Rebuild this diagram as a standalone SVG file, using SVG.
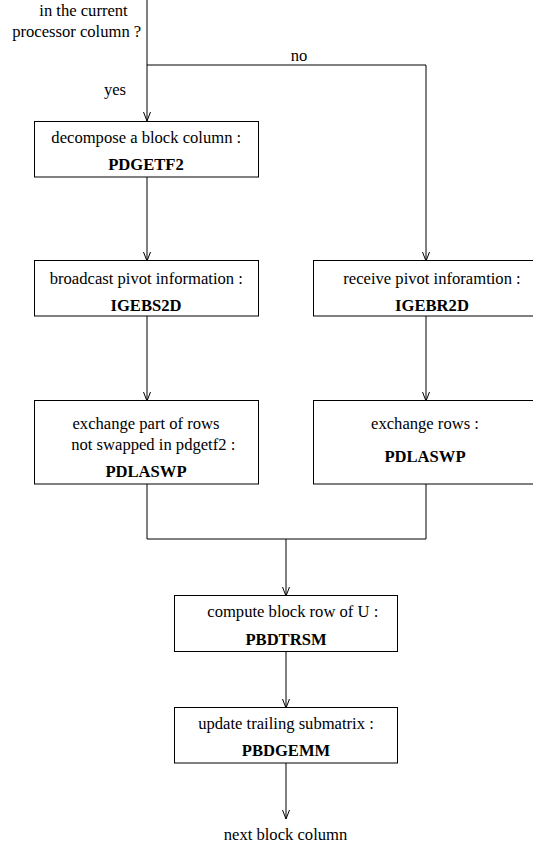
<svg xmlns="http://www.w3.org/2000/svg" width="533" height="846" viewBox="0 0 533 846">
<style>
text{font-family:"Liberation Serif","Times New Roman",serif;font-size:16.6px;fill:#000}
.b{font-weight:bold}
.m{text-anchor:middle}
rect{fill:#fff;stroke:#000;stroke-width:1}
.c{fill:none;stroke:#000;stroke-width:1}
</style>
<defs>
<marker id="arr" markerUnits="userSpaceOnUse" markerWidth="10" markerHeight="10" refX="9" refY="4" orient="auto" viewBox="0 0 10 8">
<path d="M0,0.5 L9,4 L0,7.5" fill="none" stroke="#000" stroke-width="1"/>
</marker>
</defs>
<g id="connectors">
<line class="c" x1="147" y1="0" x2="147" y2="121" marker-end="url(#arr)"/>
<polyline class="c" points="147,65 426,65 426,261" marker-end="url(#arr)"/>
<line class="c" x1="147" y1="177" x2="147" y2="261" marker-end="url(#arr)"/>
<line class="c" x1="147" y1="316" x2="147" y2="401" marker-end="url(#arr)"/>
<line class="c" x1="426" y1="316" x2="426" y2="401" marker-end="url(#arr)"/>
<polyline class="c" points="147,484 147,539 426,539 426,484"/>
<line class="c" x1="286" y1="539" x2="286" y2="596" marker-end="url(#arr)"/>
<line class="c" x1="286" y1="652" x2="286" y2="708" marker-end="url(#arr)"/>
<line class="c" x1="286" y1="763" x2="286" y2="819" marker-end="url(#arr)"/>
</g>
<g id="labels">
<text class="m" x="83.5" y="16">in the current</text>
<text class="m" x="76.7" y="37">processor column ?</text>
<text class="m" x="299" y="61">no</text>
<text class="m" x="115" y="95">yes</text>
<text class="m" x="285.5" y="840">next block column</text>
</g>
<g id="decompose">
<rect x="34.5" y="121.5" width="224" height="55.5"/>
<text class="m" x="146.3" y="143">decompose a block column :</text>
<text class="m b" x="146" y="170">PDGETF2</text>
</g>
<g id="broadcast">
<rect x="34.5" y="260.5" width="224" height="55.5"/>
<text class="m" x="146.3" y="284">broadcast pivot information :</text>
<text class="m b" x="146" y="310.5">IGEBS2D</text>
</g>
<g id="receive">
<rect x="313.5" y="260.5" width="238" height="55.5"/>
<text class="m" x="432" y="284">receive pivot inforamtion :</text>
<text class="m b" x="432" y="310.5">IGEBR2D</text>
</g>
<g id="exchange-left">
<rect x="34.5" y="400.5" width="224" height="83.5"/>
<text class="m" x="146" y="429">exchange part of rows</text>
<text class="m" x="153.3" y="450">not swapped in pdgetf2 :</text>
<text class="m b" x="146" y="477">PDLASWP</text>
</g>
<g id="exchange-right">
<rect x="313.5" y="400.5" width="238" height="83.5"/>
<text class="m" x="425" y="429">exchange rows :</text>
<text class="m b" x="425" y="462">PDLASWP</text>
</g>
<g id="compute">
<rect x="174.5" y="595.5" width="223" height="56"/>
<text class="m" x="292.8" y="617">compute block row of U :</text>
<text class="m b" x="286" y="644.5">PBDTRSM</text>
</g>
<g id="update">
<rect x="174.5" y="707.5" width="223" height="55.5"/>
<text class="m" x="286" y="729">update trailing submatrix :</text>
<text class="m b" x="286" y="756">PBDGEMM</text>
</g>
</svg>
